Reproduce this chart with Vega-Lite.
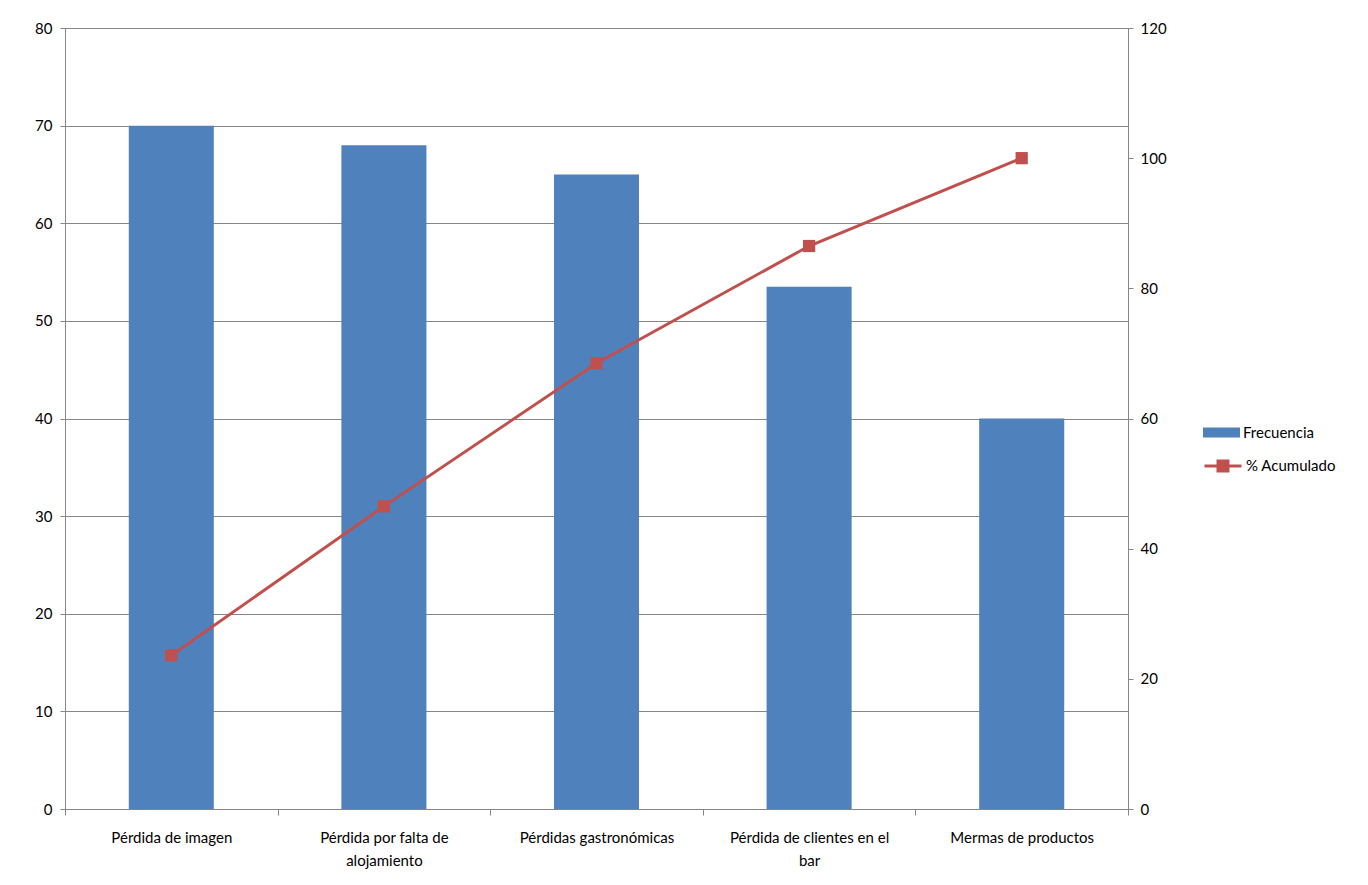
{
  "$schema": "https://vega.github.io/schema/vega-lite/v6.json",
  "width": 1063,
  "height": 781,
  "autosize": {"type": "none"},
  "padding": {"left": 65, "top": 28, "right": 240, "bottom": 76},
  "background": "white",
  "config": {
    "view": {"stroke": "#868686", "strokeWidth": 1},
    "font": "Lato",
    "axis": {"labelColor": "#000000", "labelFont": "Lato", "domainColor": "#868686", "tickColor": "#868686", "gridColor": "#868686", "gridOpacity": 1, "title": null},
    "legend": {"labelFont": "Lato"}
  },
  "data": {
    "values": [
      {"causa": "Pérdida de imagen", "frecuencia": 70, "acumulado": 23.6, "s1": "Frecuencia", "s2": "% Acumulado"},
      {"causa": "Pérdida por falta de alojamiento", "frecuencia": 68, "acumulado": 46.5, "s1": "Frecuencia", "s2": "% Acumulado"},
      {"causa": "Pérdidas gastronómicas", "frecuencia": 65, "acumulado": 68.5, "s1": "Frecuencia", "s2": "% Acumulado"},
      {"causa": "Pérdida de clientes en el bar", "frecuencia": 53.5, "acumulado": 86.5, "s1": "Frecuencia", "s2": "% Acumulado"},
      {"causa": "Mermas de productos", "frecuencia": 40, "acumulado": 100, "s1": "Frecuencia", "s2": "% Acumulado"}
    ]
  },
  "encoding": {
    "x": {
      "field": "causa",
      "type": "nominal",
      "sort": null,
      "scale": {"paddingInner": 0, "paddingOuter": 0},
      "axis": {
        "labelAngle": 0,
        "tickBand": "extent",
        "tickSize": 6,
        "labelPadding": 15,
        "labelFontSize": 15,
        "labelLineHeight": 23,
        "labelBaseline": "top",
        "labelExpr": "datum.label == 'Pérdida por falta de alojamiento' ? ['Pérdida por falta de', 'alojamiento'] : datum.label == 'Pérdida de clientes en el bar' ? ['Pérdida de clientes en el', 'bar'] : datum.label"
      }
    }
  },
  "layer": [
    {
      "mark": {"type": "bar", "width": {"band": 0.4}},
      "encoding": {
        "y": {
          "field": "frecuencia",
          "type": "quantitative",
          "scale": {"domain": [0, 80]},
          "axis": {"orient": "left", "values": [0, 10, 20, 30, 40, 50, 60, 70, 80], "tickSize": 5, "labelPadding": 8, "labelFontSize": 15, "grid": true}
        },
        "fill": {
          "field": "s1",
          "type": "nominal",
          "scale": {"range": ["#4F81BD"]},
          "legend": {
            "title": null,
            "orient": "none",
            "legendX": 1138,
            "legendY": 386,
            "symbolType": "M-1,-0.27H1V0.27H-1Z",
            "symbolSize": 1369,
            "symbolStrokeWidth": 0,
            "labelFontSize": 15,
            "labelColor": "#000000",
            "labelOffset": 3
          }
        }
      }
    },
    {
      "mark": {"type": "line", "strokeWidth": 3},
      "encoding": {
        "y": {
          "field": "acumulado",
          "type": "quantitative",
          "scale": {"domain": [0, 120]},
          "axis": {"orient": "right", "values": [0, 20, 40, 60, 80, 100, 120], "tickSize": 5, "labelPadding": 7, "labelFontSize": 15, "grid": false}
        },
        "stroke": {
          "field": "s2",
          "type": "nominal",
          "scale": {"range": ["#C0504D"]},
          "legend": {
            "title": null,
            "orient": "none",
            "legendX": 1138,
            "legendY": 418,
            "symbolType": "M-1,0H1M-0.27,-0.27H0.27V0.27H-0.27Z",
            "symbolSize": 1369,
            "symbolStrokeWidth": 3,
            "symbolFillColor": "#C0504D",
            "labelFontSize": 15,
            "labelColor": "#000000",
            "labelOffset": 3
          }
        }
      }
    },
    {
      "mark": {"type": "point", "shape": "square", "size": 150, "filled": true, "color": "#C0504D", "opacity": 1},
      "encoding": {
        "y": {"field": "acumulado", "type": "quantitative", "scale": {"domain": [0, 120]}, "axis": null}
      }
    }
  ],
  "resolve": {"scale": {"y": "independent", "fill": "independent", "stroke": "independent"}}
}
